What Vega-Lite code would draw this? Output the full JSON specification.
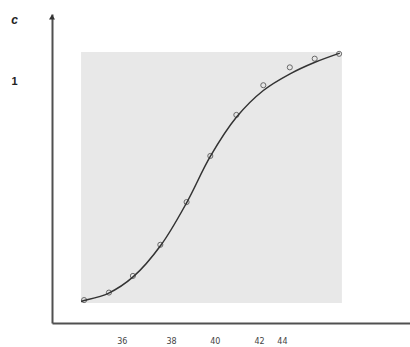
{
  "$schema": "https://vega.github.io/schema/vega-lite/v6.json",
  "autosize": {"type": "none"},
  "width": 358,
  "height": 309,
  "padding": {"left": 52, "top": 14, "right": 0, "bottom": 24},
  "background": "white",
  "config": {"view": {"stroke": null}},
  "datasets": {
    "panel": [{"t0": 34.25, "t1": 45.47, "c0": 0.083, "c1": 1.123}],
    "curve": [
      {"t": 34.25, "c": 0.089},
      {"t": 34.35, "c": 0.092},
      {"t": 35.42, "c": 0.123},
      {"t": 36.50, "c": 0.192},
      {"t": 37.69, "c": 0.323},
      {"t": 38.79, "c": 0.498},
      {"t": 39.81, "c": 0.690},
      {"t": 40.93, "c": 0.852},
      {"t": 42.09, "c": 0.963},
      {"t": 43.24, "c": 1.032},
      {"t": 44.31, "c": 1.080},
      {"t": 45.38, "c": 1.118}
    ],
    "obs": [
      {"t": 34.38, "c": 0.095},
      {"t": 35.45, "c": 0.126},
      {"t": 36.48, "c": 0.195},
      {"t": 37.66, "c": 0.324},
      {"t": 38.79, "c": 0.501},
      {"t": 39.81, "c": 0.692},
      {"t": 40.93, "c": 0.862},
      {"t": 42.09, "c": 0.985},
      {"t": 43.23, "c": 1.059},
      {"t": 44.30, "c": 1.095},
      {"t": 45.35, "c": 1.115}
    ],
    "arrow": [{"t": 33, "c": 1.28}]
  },
  "layer": [
    {
      "data": {"name": "panel"},
      "mark": {"type": "rect", "color": "#e8e8e8"},
      "encoding": {
        "x": {"field": "t0", "type": "quantitative", "scale": {"domain": [33, 48.4], "nice": false, "zero": false},
          "axis": {"values": [36, 38.12, 40, 41.91, 42.89],
            "labelExpr": "datum.value == 38.12 ? '38' : datum.value == 41.91 ? '42' : datum.value == 42.89 ? '44' : datum.label",
            "ticks": false, "grid": false, "domainColor": "#505050", "domainWidth": 2,
            "labelFontSize": 8, "labelColor": "#444", "labelPadding": 14, "labelFont": "DejaVu Sans", "title": null}},
        "x2": {"field": "t1"},
        "y": {"field": "c0", "type": "quantitative", "scale": {"domain": [0, 1.28], "nice": false},
          "axis": {"values": [1], "format": "d", "ticks": false, "grid": false, "domainColor": "#505050", "domainWidth": 2,
            "labelFontSize": 11, "labelFontWeight": "bold", "labelColor": "#222", "labelPadding": 35, "labelFont": "Liberation Sans",
            "title": "c", "titleAngle": 0, "titleX": -38, "titleY": 5, "titleAlign": "center", "titleBaseline": "middle",
            "titleFontStyle": "italic", "titleFontWeight": "bold", "titleFontSize": 12, "titleColor": "#222", "titleFont": "Liberation Sans"}},
        "y2": {"field": "c1"}
      }
    },
    {
      "data": {"name": "curve"},
      "mark": {"type": "line", "interpolate": "catmull-rom", "color": "#333", "strokeWidth": 1.5},
      "encoding": {
        "x": {"field": "t", "type": "quantitative"},
        "y": {"field": "c", "type": "quantitative"}
      }
    },
    {
      "data": {"name": "obs"},
      "mark": {"type": "point", "shape": "circle", "filled": false, "color": "#333", "size": 26, "strokeWidth": 1},
      "encoding": {
        "x": {"field": "t", "type": "quantitative"},
        "y": {"field": "c", "type": "quantitative"}
      }
    },
    {
      "data": {"name": "arrow"},
      "mark": {"type": "point", "shape": "triangle-up", "filled": true, "color": "#333", "size": 36, "yOffset": 3, "opacity": 1},
      "encoding": {
        "x": {"field": "t", "type": "quantitative"},
        "y": {"field": "c", "type": "quantitative"}
      }
    }
  ]
}
